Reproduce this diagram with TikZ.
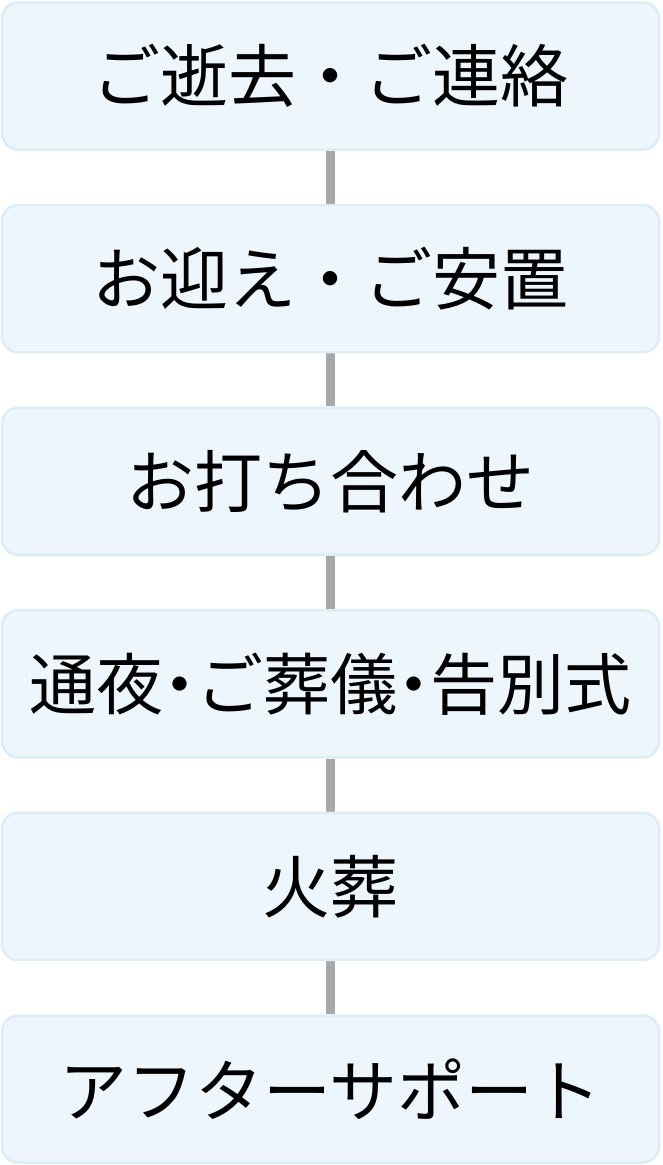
\documentclass[tikz,border=0pt]{standalone}
\usepackage{fontspec}
\newfontfamily\jp{Noto Sans CJK JP}
\usetikzlibrary{backgrounds}
\definecolor{boxfill}{HTML}{EEF6FD}
\definecolor{boxline}{HTML}{DCEDF8}
\definecolor{linkgray}{HTML}{A8A8A8}
\newcommand{\hdot}{\makebox[0.5em][c]{・}}
\tikzset{
  stepbox/.style={draw=boxline, fill=boxfill, line width=2.5pt, rounded corners=16pt,
    minimum width=657pt, minimum height=147pt, inner sep=0pt, font=\jp\fontsize{68pt}{72pt}\selectfont, text=black},
  link/.style={draw=linkgray, line width=9pt}
}
\begin{document}
\begin{tikzpicture}[x=1pt,y=-1pt]
\useasboundingbox (0,0) rectangle (662,1165);
\node[stepbox] (b1) at (330.5, 76) {ご逝去・ご連絡};
\node[stepbox] (b2) at (330.5, 278.6) {お迎え・ご安置};
\node[stepbox] (b3) at (330.5, 481.2) {お打ち合わせ};
\node[stepbox, font=\jp\fontsize{67pt}{72pt}\selectfont] (b4) at (330.5, 683.8) {通夜\hdot ご葬儀\hdot 告別式};
\node[stepbox] (b5) at (330.5, 886.4) {火葬};
\node[stepbox] (b6) at (330.5, 1089) {アフターサポート};
\begin{scope}[on background layer]
\draw[link] (b1.south) -- (b2.north);
\draw[link] (b2.south) -- (b3.north);
\draw[link] (b3.south) -- (b4.north);
\draw[link] (b4.south) -- (b5.north);
\draw[link] (b5.south) -- (b6.north);
\end{scope}
\end{tikzpicture}
\end{document}
